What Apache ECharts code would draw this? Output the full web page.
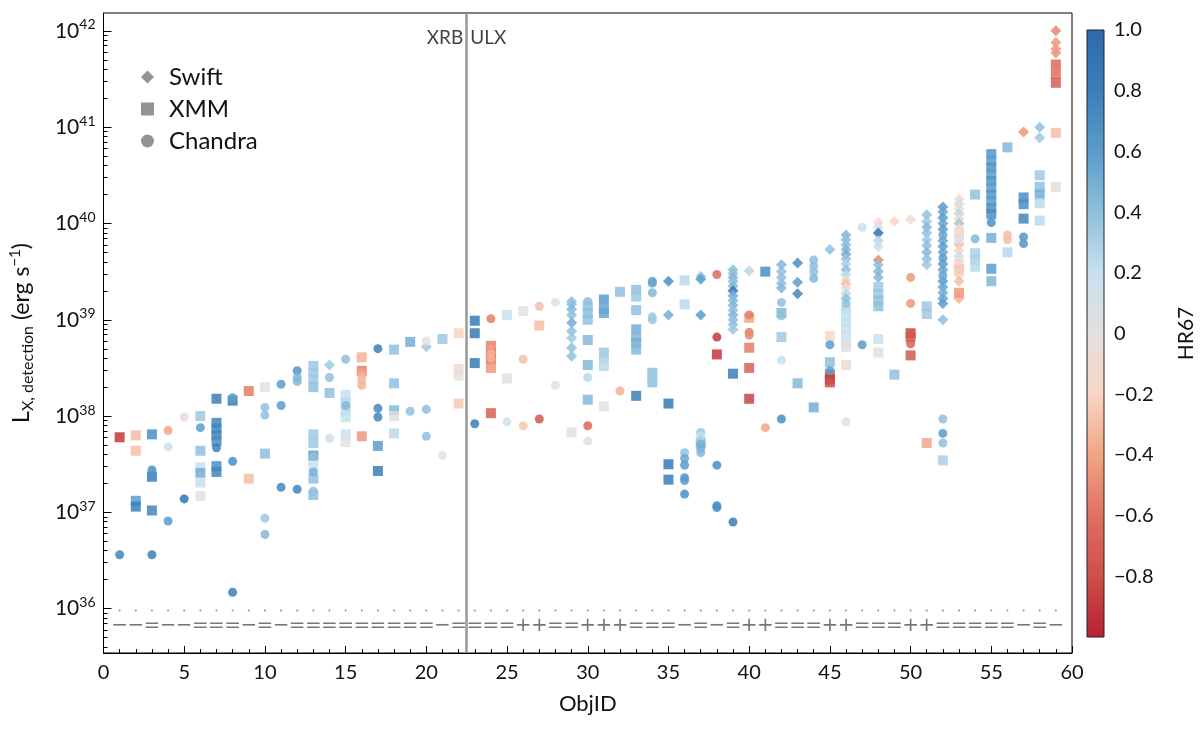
<!DOCTYPE html>
<html>
<head>
<meta charset="utf-8">
<title>LX detection vs ObjID</title>
<script src="https://cdn.jsdelivr.net/npm/echarts@6/dist/echarts.min.js"></script>
<style>
  html, body { margin: 0; padding: 0; background: #fff; }
  #chart { width: 1200px; height: 736px; }
</style>
</head>
<body>
<div id="chart"></div>
<script>
// each detection: [ObjID, log10 L_X (erg/s), HR67]
const swift = [
  [14, 38.53, 0.35], [20, 38.72, 0.35],
  [29, 39.19, 0.4], [29, 39.16, 0.4], [29, 39.11, 0.45], [29, 39.05, 0.4], [29, 38.97, 0.5],
  [29, 38.88, 0.4], [29, 38.81, 0.35], [29, 38.71, 0.4], [29, 38.62, 0.4],
  [35, 39.40, 0.7], [35, 39.05, 0.5],
  [37, 39.45, 0.4], [37, 39.42, 0.6], [37, 39.05, 0.6],
  [39, 39.52, 0.4], [39, 39.48, 0.4], [39, 39.44, 0.45], [39, 39.40, 0.4], [39, 39.35, 0.45],
  [39, 39.30, 0.85], [39, 39.25, 0.5], [39, 39.20, 0.45], [39, 39.15, 0.45], [39, 39.10, 0.4],
  [39, 39.05, 0.45], [39, 39.00, 0.4], [39, 38.95, 0.4], [39, 38.90, 0.35],
  [40, 39.51, 0.25],
  [42, 39.57, 0.45], [42, 39.50, 0.4], [42, 39.44, 0.4], [42, 39.38, 0.4], [42, 39.33, 0.45],
  [43, 39.59, 0.7], [43, 39.39, 0.6], [43, 39.27, 0.75],
  [45, 39.73, 0.4],
  [46, 39.88, 0.45], [46, 39.83, 0.4], [46, 39.78, 0.4], [46, 39.73, 0.45], [46, 39.68, 0.5],
  [46, 39.63, 0.4], [46, 39.58, 0.3], [46, 39.52, 0.4], [46, 39.47, 0.25], [46, 39.41, -0.15],
  [46, 39.37, -0.3], [46, 39.33, -0.1], [46, 39.27, 0.25], [46, 39.22, 0.4],
  [48, 40.01, -0.15], [48, 39.96, 0.05], [48, 39.90, 0.9], [48, 39.82, 0.25], [48, 39.76, 0.2],
  [48, 39.62, -0.5], [48, 39.57, 0.4], [48, 39.50, 0.45], [48, 39.44, 0.45],
  [49, 40.02, -0.2], [50, 40.04, -0.05],
  [51, 40.09, 0.4], [51, 40.02, 0.35], [51, 39.96, 0.45], [51, 39.90, 0.4], [51, 39.83, 0.35],
  [51, 39.77, 0.4], [51, 39.70, 0.45], [51, 39.63, 0.4], [51, 39.57, 0.35],
  [52, 40.17, 0.6], [52, 40.12, 0.55], [52, 40.06, 0.6], [52, 40.00, 0.55], [52, 39.94, 0.6],
  [52, 39.82, 0.55], [52, 39.76, 0.6], [52, 39.70, 0.55], [52, 39.58, 0.6], [52, 39.52, 0.55],
  [52, 39.40, 0.6], [52, 39.34, 0.55], [52, 39.28, 0.5], [52, 39.22, 0.55], [52, 39.17, 0.6],
  [52, 39.00, 0.4],
  [53, 40.25, -0.1], [53, 40.20, 0.2], [53, 40.15, -0.15], [53, 40.10, 0.25], [53, 40.05, -0.2],
  [53, 40.00, 0.35], [53, 39.95, -0.1], [53, 39.78, -0.3], [53, 39.72, -0.2], [53, 39.66, 0.2],
  [53, 39.46, -0.2], [53, 39.40, -0.3], [53, 39.22, -0.35],
  [57, 40.95, -0.45],
  [58, 41.00, 0.4], [58, 40.89, 0.35],
  [59, 42.00, -0.5], [59, 41.88, -0.45], [59, 41.81, -0.45], [59, 41.77, -0.45]
];
const xmm = [
  [1, 37.78, -0.9],
  [2, 37.80, -0.3], [2, 37.64, -0.3], [2, 37.12, 0.6], [2, 37.06, 0.8],
  [3, 37.81, 0.7], [3, 37.37, 0.8], [3, 37.02, 0.75],
  [6, 38.00, 0.35], [6, 37.64, 0.4], [6, 37.47, 0.2], [6, 37.41, 0.5], [6, 37.31, 0.2], [6, 37.17, 0.02],
  [7, 38.18, 0.8], [7, 37.93, 0.75], [7, 37.87, 0.75], [7, 37.80, 0.75], [7, 37.74, 0.7],
  [7, 37.48, 0.7], [7, 37.42, 0.75],
  [8, 38.16, 0.8],
  [9, 38.26, -0.55], [9, 37.35, -0.3],
  [10, 38.30, 0.0], [10, 37.61, 0.4],
  [13, 38.52, 0.35], [13, 38.45, 0.35], [13, 38.38, 0.35], [13, 38.30, 0.4], [13, 37.81, 0.35],
  [13, 37.72, 0.35], [13, 37.59, 0.6], [13, 37.48, 0.2], [13, 37.35, 0.4], [13, 37.18, 0.4],
  [14, 38.24, 0.4],
  [15, 38.22, 0.2], [15, 38.14, 0.25], [15, 38.05, 0.25], [15, 37.99, 0.2], [15, 37.81, 0.2], [15, 37.73, 0.0],
  [16, 38.61, -0.35], [16, 38.47, -0.55], [16, 37.79, -0.45],
  [17, 37.69, 0.6], [17, 37.43, 0.8],
  [18, 38.69, 0.4], [18, 38.34, 0.4], [18, 38.06, 0.45], [18, 38.00, 0.05], [18, 37.82, 0.25],
  [19, 38.77, 0.5],
  [21, 38.80, 0.35],
  [22, 38.86, -0.2], [22, 38.49, -0.1], [22, 38.42, 0.0], [22, 38.13, -0.25],
  [23, 38.99, 0.85], [23, 38.86, 0.85], [23, 38.55, 0.85],
  [24, 38.73, -0.55], [24, 38.66, -0.6], [24, 38.59, -0.6], [24, 38.50, -0.45], [24, 38.03, -0.7],
  [25, 39.05, 0.2], [25, 38.39, 0.02],
  [26, 39.09, 0.0],
  [27, 38.94, -0.3],
  [29, 37.83, 0.02],
  [30, 39.14, 0.4], [30, 39.07, 0.4], [30, 39.00, 0.4], [30, 38.79, 0.45], [30, 38.53, 0.45], [30, 38.17, 0.45],
  [31, 39.21, 0.6], [31, 39.11, 0.55], [31, 39.07, 0.55], [31, 38.66, 0.35], [31, 38.60, 0.3],
  [31, 38.52, 0.25], [31, 38.10, 0.02],
  [32, 39.29, 0.4],
  [33, 39.31, 0.4], [33, 39.24, 0.35], [33, 39.10, 0.4], [33, 38.90, 0.5], [33, 38.82, 0.45],
  [33, 38.76, 0.5], [33, 38.69, 0.45], [33, 38.21, 0.8],
  [34, 38.45, 0.4], [34, 38.35, 0.4],
  [35, 38.13, 0.85], [35, 37.50, 0.85], [35, 37.34, 0.8],
  [36, 39.41, 0.25], [36, 39.16, 0.25],
  [37, 37.72, 0.45],
  [38, 38.64, -0.9],
  [39, 38.44, 0.8],
  [40, 39.02, -0.4], [40, 38.71, -0.55], [40, 38.50, -0.7], [40, 38.18, -0.85],
  [41, 39.50, 0.7],
  [42, 39.07, 0.45], [42, 38.82, 0.35],
  [43, 38.34, 0.45],
  [44, 38.09, 0.5],
  [45, 38.83, -0.15], [45, 38.56, 0.4], [45, 38.43, -0.75], [45, 38.38, -0.9], [45, 38.35, -0.8],
  [46, 39.10, 0.25], [46, 39.03, 0.2], [46, 38.97, 0.2], [46, 38.90, 0.2], [46, 38.83, 0.15],
  [46, 38.76, 0.05], [46, 38.72, 0.05], [46, 38.53, -0.1],
  [48, 39.34, 0.35], [48, 39.27, 0.35], [48, 39.20, 0.4], [48, 39.14, 0.4], [48, 38.80, 0.2], [48, 38.66, 0.02],
  [49, 38.43, 0.4],
  [50, 38.86, -0.85], [50, 38.82, -0.75], [50, 38.63, -0.75],
  [51, 39.14, 0.35], [51, 39.06, 0.35], [51, 37.72, -0.4],
  [52, 37.54, 0.3],
  [53, 39.90, -0.15], [53, 39.84, 0.05], [53, 39.58, -0.2], [53, 39.52, -0.25], [53, 39.28, -0.45],
  [54, 40.30, 0.4], [54, 39.69, 0.3], [54, 39.62, 0.3], [54, 39.55, 0.25],
  [55, 40.72, 0.65], [55, 40.65, 0.6], [55, 40.58, 0.65], [55, 40.51, 0.6], [55, 40.44, 0.65],
  [55, 40.37, 0.6], [55, 40.30, 0.65], [55, 40.23, 0.6], [55, 40.16, 0.65], [55, 40.10, 0.7],
  [55, 39.85, 0.5], [55, 39.53, 0.6], [55, 39.40, 0.45],
  [56, 40.79, 0.45], [56, 39.70, 0.25],
  [57, 40.27, 0.7], [57, 40.20, 0.7], [57, 40.05, 0.75],
  [58, 40.50, 0.35], [58, 40.38, 0.4], [58, 40.30, 0.5], [58, 40.21, 0.25], [58, 40.03, 0.25],
  [59, 41.65, -0.65], [59, 41.55, -0.6], [59, 41.46, -0.7], [59, 40.94, -0.3], [59, 40.38, -0.05]
];
const chandra = [
  [1, 36.56, 0.75],
  [3, 37.44, 0.7], [3, 36.56, 0.8],
  [4, 37.85, -0.4], [4, 37.68, 0.15], [4, 36.91, 0.6],
  [5, 37.99, -0.1], [5, 37.14, 0.9],
  [6, 37.88, 0.6],
  [7, 37.67, 0.8],
  [8, 38.19, 0.6], [8, 37.53, 0.7], [8, 36.17, 0.8],
  [10, 38.09, 0.4], [10, 38.01, 0.4], [10, 36.94, 0.35], [10, 36.77, 0.45],
  [11, 38.33, 0.6], [11, 38.11, 0.6], [11, 37.26, 0.75],
  [12, 38.47, 0.65], [12, 38.40, 0.45], [12, 38.36, 0.45], [12, 37.24, 0.75],
  [13, 37.58, 0.4], [13, 37.42, 0.5], [13, 37.22, 0.4],
  [14, 38.40, 0.4], [14, 37.77, 0.15],
  [15, 38.59, 0.4], [15, 38.11, 0.45],
  [16, 38.45, -0.4], [16, 38.41, -0.35], [16, 38.37, -0.3], [16, 38.32, -0.35],
  [17, 38.70, 0.8], [17, 38.08, 0.75], [17, 37.99, 0.75],
  [19, 38.05, 0.4],
  [20, 38.78, 0.0], [20, 38.07, 0.4], [20, 37.79, 0.4],
  [21, 37.59, 0.02],
  [23, 37.92, 0.8],
  [24, 39.01, -0.55], [24, 38.69, -0.4], [24, 38.64, -0.35], [24, 38.60, -0.35],
  [25, 37.94, 0.15],
  [26, 38.59, -0.3], [26, 37.90, -0.25],
  [27, 39.14, -0.3], [27, 37.97, -0.75],
  [28, 39.18, -0.02], [28, 38.32, -0.02],
  [30, 39.19, 0.4], [30, 38.40, 0.25], [30, 37.90, -0.65], [30, 37.74, -0.05],
  [32, 38.26, -0.35],
  [34, 39.40, 0.55], [34, 39.38, 0.55], [34, 39.28, 0.45], [34, 39.03, 0.35], [34, 39.00, 0.35],
  [36, 37.62, 0.4], [36, 37.56, 0.55], [36, 37.49, 0.6], [36, 37.36, 0.65], [36, 37.33, 0.6], [36, 37.19, 0.7],
  [37, 37.83, 0.35], [37, 37.79, 0.2], [37, 37.75, 0.3], [37, 37.71, 0.5], [37, 37.66, 0.5], [37, 37.62, 0.45],
  [38, 39.47, -0.65], [38, 38.82, -0.9], [38, 37.49, 0.7], [38, 37.07, 0.7], [38, 37.05, 0.7],
  [39, 36.90, 0.8],
  [40, 39.05, -0.55], [40, 38.87, -0.55], [40, 38.84, -0.5],
  [41, 37.88, -0.4],
  [42, 39.18, 0.4], [42, 39.04, 0.4], [42, 38.58, 0.2], [42, 37.97, 0.7],
  [44, 39.62, 0.4], [44, 39.56, 0.4], [44, 39.50, 0.4], [44, 39.43, 0.45],
  [45, 38.74, 0.6], [45, 38.47, 0.6],
  [46, 39.17, 0.4], [46, 37.94, 0.0],
  [47, 39.96, 0.2], [47, 38.74, 0.6],
  [50, 39.44, -0.45], [50, 39.17, -0.45], [50, 38.75, -0.7],
  [52, 39.88, 0.55], [52, 39.64, 0.6], [52, 39.46, 0.55], [52, 37.97, 0.4], [52, 37.82, 0.6], [52, 37.72, 0.4],
  [54, 39.84, 0.45],
  [55, 40.01, 0.7],
  [56, 39.88, -0.3], [56, 39.83, -0.3],
  [57, 39.86, 0.65], [57, 39.79, 0.65]
];
// classification marks along the bottom, ObjID 1..59
const classMarks = ['−','−','=','−','−','=','=','=','−','=','−','=','=','=','=','=','=','=','=','=',
  '−','=','=','=','=','+','+','=','=','+','+','+','=','=','=','−','=','−','=','+',
  '+','=','=','=','+','+','=','=','=','+','+','=','=','=','=','=','−','=','−'];
const classLogL = 35.82;
const dotLogL = 35.98;
const boundary = 22.5;
const yTicks = [36, 37, 38, 39, 40, 41, 42];
const cbTicks = [-0.8, -0.6, -0.4, -0.2, 0, 0.2, 0.4, 0.6, 0.8, 1.0];
const hrRange = [-1, 1];
const rdbu = ['#b8202f', '#cf4e4a', '#de7160', '#f2a584', '#f8d5c3', '#e4e0de',
  '#c7e0ee', '#8fc0de', '#5a9ccb', '#3a7fba', '#2c69ad'];

const FONT = 'Lato';
const CLEAR = 'rgba(0,0,0,0)';
const minorTicks = [];
for (let d = 35; d <= 42; d++) {
  for (let k = 2; k <= 9; k++) {
    const v = d + Math.log10(k);
    if (v > 35.54 && v < 42.185) minorTicks.push(v);
  }
}

const chart = echarts.init(document.getElementById('chart'));

const gradStops = rdbu.map((c, i) => ({ offset: 1 - i / (rdbu.length - 1), color: c }));

const pointSeries = (name, data, symbol, size) => ({
  name: name,
  type: 'scatter',
  data: data,
  symbol: symbol,
  symbolSize: size,
  itemStyle: { opacity: 0.85 },
  xAxisIndex: 0,
  yAxisIndex: 0
});

const option = {
  animation: false,
  backgroundColor: '#fff',
  textStyle: { fontFamily: FONT },
  grid: [
    { left: 97.5, right: 128, top: 13, bottom: 83, show: true, borderColor: '#000', borderWidth: 1 },
    { left: 1087, width: 17, top: 30, bottom: 99 }
  ],
  legend: {
    orient: 'vertical',
    left: 136,
    top: 60,
    itemWidth: 13,
    itemHeight: 13,
    itemGap: 8,
    textStyle: { fontSize: 24, color: '#111', fontFamily: FONT, padding: [0, 0, 0, 10] },
    data: [
      { name: 'Swift', icon: 'diamond', itemStyle: { color: '#808080' } },
      { name: 'XMM', icon: 'rect', itemStyle: { color: '#808080' } },
      { name: 'Chandra', icon: 'circle', itemStyle: { color: '#808080' } }
    ],
    selectedMode: false
  },
  visualMap: {
    type: 'continuous',
    show: false,
    min: hrRange[0],
    max: hrRange[1],
    dimension: 2,
    seriesIndex: [0, 1, 2],
    inRange: { color: rdbu }
  },
  xAxis: [
    {
      gridIndex: 0,
      type: 'value',
      min: 0,
      max: 60,
      interval: 5,
      name: 'ObjID',
      nameLocation: 'middle',
      nameGap: 40,
      nameTextStyle: { fontSize: 22, color: '#111' },
      axisLine: { lineStyle: { color: '#000' } },
      axisTick: { inside: true, length: 7, lineStyle: { color: '#000' } },
      minorTick: { show: true, splitNumber: 5, length: 4, lineStyle: { color: '#000' } },
      axisLabel: { fontSize: 20, color: '#111', margin: 10 },
      splitLine: { show: false }
    },
    {
      gridIndex: 1,
      type: 'value',
      min: 0,
      max: 1,
      show: false
    }
  ],
  yAxis: [
    {
      gridIndex: 0,
      type: 'value',
      position: 'left',
      min: 35.54,
      max: 42.185,
      name: '{n|L}{sub|X, detection}{n| (erg s}{sup|−1}{n|)}',
      nameLocation: 'middle',
      nameGap: 68,
      nameTextStyle: {
        rich: {
          n: { fontSize: 23, color: '#111', fontFamily: FONT },
          sub: { fontSize: 16, color: '#111', fontFamily: FONT, padding: [12, 0, 0, 0] },
          sup: { fontSize: 15, color: '#111', fontFamily: FONT, padding: [0, 0, 12, 0] }
        }
      },
      axisLine: { show: true, lineStyle: { color: '#000' } },
      axisTick: { show: true, inside: true, length: 8, customValues: yTicks, lineStyle: { color: '#000' } },
      axisLabel: {
        customValues: yTicks,
        margin: 8,
        formatter: v => '{b|10}{s|' + Math.round(v) + '}',
        rich: {
          b: { fontSize: 21, color: '#111', fontFamily: FONT },
          s: { fontSize: 14, color: '#111', fontFamily: FONT, padding: [0, 0, 12, 0] }
        }
      },
      splitLine: { show: false }
    },
    {
      gridIndex: 0,
      type: 'value',
      position: 'left',
      min: 35.54,
      max: 42.185,
      axisLine: { show: false },
      axisTick: { show: true, inside: true, length: 4, customValues: minorTicks, lineStyle: { color: '#000' } },
      axisLabel: { show: false },
      splitLine: { show: false }
    },
    {
      gridIndex: 1,
      type: 'value',
      position: 'right',
      min: hrRange[0],
      max: hrRange[1],
      name: 'HR67',
      nameLocation: 'middle',
      nameRotate: 90,
      nameGap: 72,
      nameTextStyle: { fontSize: 21, color: '#111' },
      axisLine: { show: false },
      axisTick: { show: true, length: 5, customValues: cbTicks, lineStyle: { color: '#000' } },
      axisLabel: {
        customValues: cbTicks,
        fontSize: 20,
        color: '#111',
        margin: 10,
        formatter: v => {
          if (Math.abs(v) < 1e-9) return '0';
          const s = Math.abs(v).toFixed(1);
          return v < 0 ? '−' + s : s;
        }
      },
      splitLine: { show: false }
    }
  ],
  series: [
    pointSeries('Swift', swift, 'diamond', 11),
    pointSeries('XMM', xmm, 'rect', 10),
    pointSeries('Chandra', chandra, 'circle', 9),
    {
      name: 'dots',
      type: 'scatter',
      silent: true,
      data: classMarks.map((c, i) => [i + 1, dotLogL]),
      symbol: 'circle',
      symbolSize: 2,
      itemStyle: { color: '#777' }
    },
    {
      name: 'classes',
      type: 'scatter',
      silent: true,
      data: classMarks.map((c, i) => ({ name: c, value: [i + 1, classLogL] })),
      symbolSize: 1,
      itemStyle: { color: CLEAR },
      label: {
        show: true,
        position: 'inside',
        formatter: '{b}',
        fontSize: 20,
        color: '#555',
        fontFamily: 'DejaVu Sans'
      }
    },
    {
      name: 'boundary',
      type: 'scatter',
      silent: true,
      data: [
        { value: [boundary, 41.93], label: { position: 'left', formatter: 'XRB' } },
        { value: [boundary, 41.93], label: { position: 'right', formatter: 'ULX' } }
      ],
      symbolSize: 1,
      itemStyle: { color: CLEAR },
      label: { show: true, fontSize: 19, color: '#111', distance: 3 },
      markLine: {
        silent: true,
        symbol: 'none',
        label: { show: false },
        lineStyle: { color: '#999', width: 2.5, type: 'solid' },
        data: [{ xAxis: boundary }]
      }
    },
    {
      name: 'colorbar',
      type: 'custom',
      xAxisIndex: 1,
      yAxisIndex: 2,
      silent: true,
      data: [hrRange],
      renderItem: (params, api) => {
        const p0 = api.coord([0, api.value(1)]);
        const p1 = api.coord([1, api.value(0)]);
        return {
          type: 'rect',
          shape: { x: p0[0], y: p0[1], width: p1[0] - p0[0], height: p1[1] - p0[1] },
          style: {
            fill: new echarts.graphic.LinearGradient(0, 0, 0, 1, gradStops),
            stroke: '#222',
            lineWidth: 1
          }
        };
      }
    }
  ]
};

chart.setOption(option);
</script>
</body>
</html>
